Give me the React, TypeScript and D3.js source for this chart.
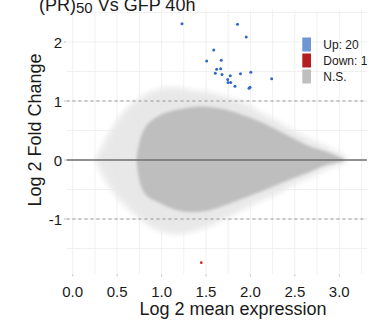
import React from "react";
import * as d3 from "d3";

// ---- data ----
const xTicks = [0, 0.5, 1, 1.5, 2, 2.5, 3];
const xTickLabels = ["0.0", "0.5", "1.0", "1.5", "2.0", "2.5", "3.0"];
const xMinor = [0.25, 0.75, 1.25, 1.75, 2.25, 2.75, 3.25];
const yTicks = [-1, 0, 1, 2];
const yTickLabels = ["-1", "0", "1", "2"];
const yMinor = [-1.5, -0.5, 0.5, 1.5, 2.5];

// significant up-regulated genes (log2 mean expression, log2 fold change)
const upX = [1.23, 1.854, 1.953, 1.587, 1.508, 1.672, 1.62, 1.665, 1.605, 1.68, 1.773, 1.888, 2.004, 2.239, 1.744, 1.748, 1.778, 1.826, 1.984, 1.995];
const upY = [2.31, 2.3, 2.085, 1.864, 1.678, 1.69, 1.539, 1.547, 1.469, 1.449, 1.429, 1.463, 1.486, 1.378, 1.364, 1.314, 1.314, 1.249, 1.215, 1.232];
// significant down-regulated gene
const downX = [1.447];
const downY = [-1.74];

// envelope of the non-significant cloud (sparse outer halo)
const haloX = [0.27, 0.42, 0.61, 0.79, 0.98, 1.17, 1.36, 1.54, 1.73, 1.92, 2.11, 2.3, 2.48, 2.67, 2.86, 3.08];
const haloHi = [0.02, 0.45, 0.85, 1.07, 1.19, 1.21, 1.16, 1.13, 1.05, 0.96, 0.79, 0.65, 0.48, 0.34, 0.2, 0.04];
const haloLo = [-0.02, -0.45, -0.79, -1.02, -1.19, -1.24, -1.19, -1.1, -0.96, -0.82, -0.68, -0.56, -0.4, -0.28, -0.14, -0.03];
// dense core of the cloud
const coreX = [0.72, 0.77, 0.84, 0.98, 1.17, 1.36, 1.54, 1.73, 1.92, 2.11, 2.3, 2.48, 2.67, 2.86, 3.05];
const coreHi = [0.05, 0.4, 0.6, 0.76, 0.85, 0.9, 0.9, 0.85, 0.76, 0.65, 0.51, 0.37, 0.23, 0.14, 0.02];
const coreLo = [-0.05, -0.45, -0.62, -0.73, -0.85, -0.88, -0.85, -0.76, -0.65, -0.54, -0.42, -0.31, -0.2, -0.08, -0.02];

const legendLabels = ["Up: 20", "Down: 1", "N.S."];
const legendColors = ["#6d96d2", "#b51f1f", "#bfbfbf"];

const W = 369;
const H = 324;
const FONT = "'Liberation Sans', Arial, Helvetica, sans-serif";

export default function App() {
  const x = d3.scaleLinear().domain([0, 3]).range([72.7, 339.3]);
  const y = d3.scaleLinear().domain([0, 1]).range([160, 101]);
  const [px0, px1] = [x(-0.07), x(3.31)];
  const [py0, py1] = [y(2.55), y(-1.93)];

  const halo = d3
    .area<number>()
    .x((i) => x(haloX[i]))
    .y0((i) => y(haloLo[i]))
    .y1((i) => y(haloHi[i]))
    .curve(d3.curveCatmullRom)(haloX.map((_, i) => i));
  const core = d3
    .area<number>()
    .x((i) => x(coreX[i]))
    .y0((i) => y(coreLo[i]))
    .y1((i) => y(coreHi[i]))
    .curve(d3.curveCatmullRom)(coreX.map((_, i) => i));

  const grid = "#ececec";

  return (
    <svg width={W} height={H} style={{ position: "absolute", left: 0, top: 0, background: "#fff" }} fontFamily={FONT}>
      <defs>
        <filter id="blurHalo" x="-20%" y="-20%" width="140%" height="140%">
          <feGaussianBlur stdDeviation="3" />
        </filter>
        <filter id="blurCore" x="-20%" y="-20%" width="140%" height="140%">
          <feGaussianBlur stdDeviation="1.6" />
        </filter>
        <pattern id="stripes" width="3" height="3" patternUnits="userSpaceOnUse" patternTransform="rotate(40)">
          <rect width="3" height="3" fill="#f1f1f1" />
          <rect width="1.3" height="3" fill="#dedede" />
        </pattern>
        <clipPath id="panel">
          <rect x={px0} y={py0} width={px1 - px0} height={py1 - py0} />
        </clipPath>
      </defs>
      <rect width={W} height={H} fill="#fff" />
      {/* grid */}
      {[...xTicks, ...xMinor].map((v) => (
        <line key={"gx" + v} x1={x(v)} x2={x(v)} y1={py0} y2={py1} stroke={grid} strokeWidth={0.8} />
      ))}
      {[...yTicks, ...yMinor].map((v) => (
        <line key={"gy" + v} x1={px0} x2={px1} y1={y(v)} y2={y(v)} stroke={grid} strokeWidth={0.8} />
      ))}
      {/* cloud */}
      <g clipPath="url(#panel)">
        <path d={halo || ""} fill="url(#stripes)" filter="url(#blurHalo)" opacity={0.9} />
        <path d={halo || ""} fill="#e6e6e6" opacity={0.55} filter="url(#blurHalo)" />
        <path d={core || ""} fill="#bebebe" filter="url(#blurCore)" />
      </g>
      {/* reference lines */}
      <line x1={px0} x2={px1} y1={y(0)} y2={y(0)} stroke="#6e6e6e" strokeWidth={1.3} />
      <line x1={px0} x2={px1} y1={y(1)} y2={y(1)} stroke="#8a8a8a" strokeWidth={0.9} strokeDasharray="3,3" />
      <line x1={px0} x2={px1} y1={y(-1)} y2={y(-1)} stroke="#8a8a8a" strokeWidth={0.9} strokeDasharray="3,3" />
      {/* points */}
      {upX.map((v, i) => (
        <circle key={"u" + i} cx={x(v)} cy={y(upY[i])} r={1.5} fill="#3567c4" />
      ))}
      {downX.map((v, i) => (
        <circle key={"d" + i} cx={x(v)} cy={y(downY[i])} r={1.3} fill="#d42020" />
      ))}
      {/* axes ticks */}
      {xTicks.map((v, i) => (
        <g key={"xt" + v}>
          <line x1={x(v)} x2={x(v)} y1={py1 + 0.5} y2={py1 + 2.5} stroke="#b0b0b0" strokeWidth={0.8} />
          <text x={x(v)} y={296.5} fontSize={15} textAnchor="middle" fill="#1a1a1a">
            {xTickLabels[i]}
          </text>
        </g>
      ))}
      {yTicks.map((v, i) => (
        <g key={"yt" + v}>
          <line x1={px0 - 2.5} x2={px0 - 0.5} y1={y(v)} y2={y(v)} stroke="#b0b0b0" strokeWidth={0.8} />
          <text x={62} y={y(v)} fontSize={15} textAnchor="end" dominantBaseline="central" fill="#1a1a1a">
            {yTickLabels[i]}
          </text>
        </g>
      ))}
      {/* axis titles */}
      <text x={233} y={315} fontSize={18} textAnchor="middle" fill="#1a1a1a">
        Log 2 mean expression
      </text>
      <text transform="translate(41,130) rotate(-90)" fontSize={18} textAnchor="middle" fill="#1a1a1a">
        Log 2 Fold Change
      </text>
      {/* title */}
      <text x={39} y={11} fontSize={18} fill="#1a1a1a">
        (PR)
        <tspan fontSize={15} dy={2}>50</tspan>
        <tspan dy={-2}> Vs GFP 40h</tspan>
      </text>
      {/* legend */}
      {legendLabels.map((l, i) => (
        <g key={"lg" + i}>
          <rect x={302.3} y={37.5 + i * 16} width={8.7} height={14} fill={legendColors[i]} />
          <text x={323.3} y={44.5 + i * 16} fontSize={12} dominantBaseline="central" fill="#1a1a1a">
            {l}
          </text>
        </g>
      ))}
    </svg>
  );
}
